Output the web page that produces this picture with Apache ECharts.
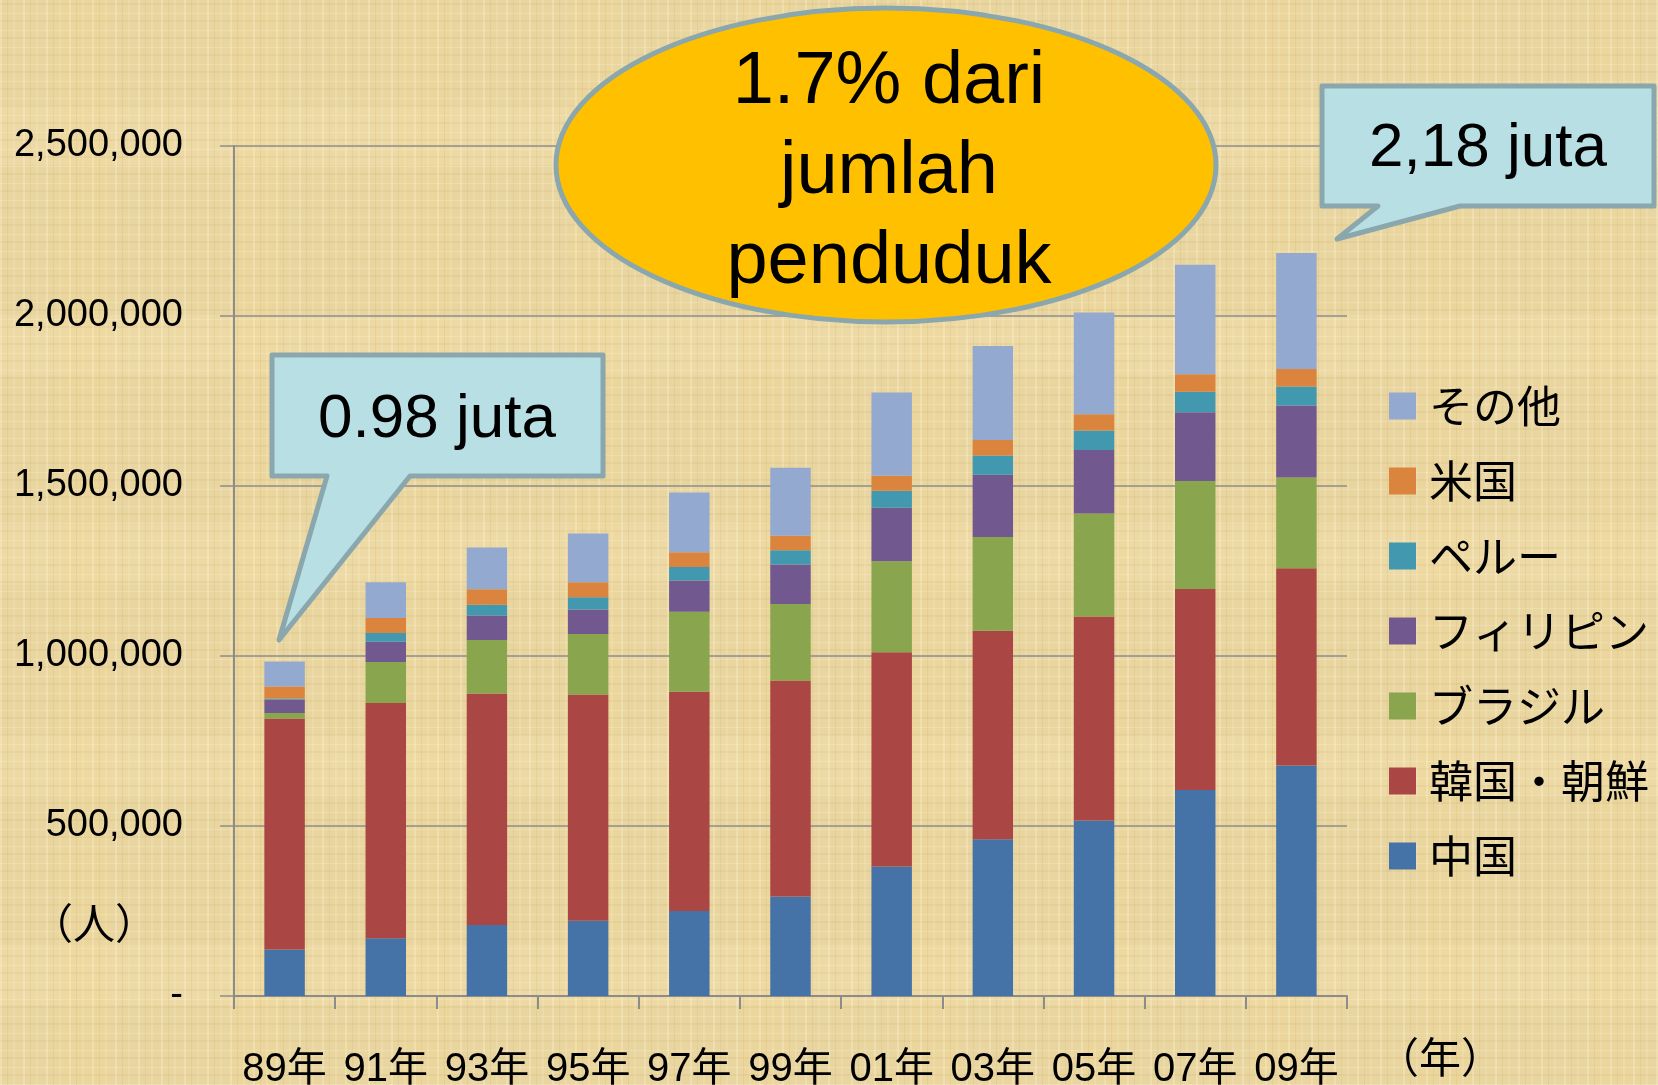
<!DOCTYPE html>
<html>
<head>
<meta charset="utf-8">
<script src="https://cdn.jsdelivr.net/npm/echarts@6/dist/echarts.min.js"></script>
<style>
  html, body { margin: 0; padding: 0; }
  #chart {
    width: 1658px; height: 1085px;
    background-color: #E9D59F;
    background-image:
      repeating-linear-gradient(90deg, rgba(255,248,220,0.28) 0 2px, rgba(0,0,0,0) 2px 7px, rgba(170,140,70,0.10) 7px 8px, rgba(0,0,0,0) 8px 13px, rgba(255,248,220,0.15) 13px 15px, rgba(0,0,0,0) 15px 23px),
      repeating-linear-gradient(0deg, rgba(255,248,220,0.22) 0 1px, rgba(0,0,0,0) 1px 9px, rgba(170,140,70,0.09) 9px 11px, rgba(0,0,0,0) 11px 17px),
      repeating-linear-gradient(90deg, rgba(240,210,140,0.0) 0 60px, rgba(240,215,150,0.25) 60px 110px, rgba(0,0,0,0) 110px 170px),
      repeating-linear-gradient(0deg, rgba(250,230,180,0.0) 0 80px, rgba(250,232,185,0.22) 80px 140px, rgba(0,0,0,0) 140px 210px);
  }
</style>
</head>
<body>
<div id="chart"></div>
<script>
// ---- data (persons) ----
const categories = ['89年', '91年', '93年', '95年', '97年', '99年', '01年', '03年', '05年', '07年', '09年'];
const china       = [137000, 170000, 209000, 221000, 250000, 293000, 381000, 461000, 516000, 606000, 678000];
const korea       = [679000, 692000, 681000, 666000, 645000, 635000, 630000, 613000, 600000, 591000, 580000];
const brazil      = [16000, 120000, 157000, 178000, 235000, 225000, 268000, 276000, 303000, 318000, 267000];
const philippines = [40000, 60000, 72000, 72000, 92000, 116000, 157000, 183000, 187000, 202000, 212000];
const peru        = [3000, 26000, 32000, 36000, 40000, 42000, 50000, 57000, 57000, 60000, 56000];
const usa         = [35000, 44000, 45000, 44000, 43000, 43000, 44000, 45000, 48000, 52000, 51000];
const others      = [74000, 105000, 123000, 143000, 176000, 200000, 245000, 277000, 299000, 322000, 341000];

const seriesNames  = ['中国', '韓国・朝鮮', 'ブラジル', 'フィリピン', 'ペルー', '米国', 'その他'];
const seriesValues = [china, korea, brazil, philippines, peru, usa, others];
const seriesColors = ['#4572A7', '#AA4643', '#89A54E', '#71588F', '#4198AF', '#DB843D', '#93A9CF'];
const legendOrder  = ['その他', '米国', 'ペルー', 'フィリピン', 'ブラジル', '韓国・朝鮮', '中国'];

const yMin = 0, yMax = 2500000, yStep = 500000;

const latin = '"Liberation Sans", Arial, "Noto Sans CJK JP", sans-serif';
const cjk = '"Noto Sans CJK JP", "Liberation Sans", sans-serif';
const frameColor = '#8AA7AD';
const axisColor = '#8C8C8C';

const chart = echarts.init(document.getElementById('chart'), null, { renderer: 'canvas' });

chart.setOption({
  backgroundColor: 'transparent',
  animation: false,
  grid: { left: 234, right: 311, top: 146, bottom: 89, containLabel: false, outerBoundsMode: 'none' },
  legend: {
    data: legendOrder,
    orient: 'vertical',
    left: 1389,
    top: 384,
    padding: 0,
    itemWidth: 27,
    itemHeight: 27,
    itemGap: 31,
    icon: 'rect',
    textStyle: { fontFamily: cjk, fontSize: 44, lineHeight: 44, color: '#000', padding: [0, 0, 0, 8] }
  },
  xAxis: {
    type: 'category',
    data: categories,
    axisLine: { show: true, lineStyle: { color: axisColor, width: 2 } },
    axisTick: { show: true, length: 13, alignWithLabel: false, lineStyle: { color: axisColor, width: 2 } },
    axisLabel: { fontFamily: latin, fontSize: 40, color: '#000', margin: 54, interval: 0 },
    splitLine: { show: false }
  },
  yAxis: {
    type: 'value',
    min: yMin, max: yMax, interval: yStep,
    axisLine: { show: true, lineStyle: { color: axisColor, width: 2 } },
    axisTick: { show: true, length: 14, lineStyle: { color: axisColor, width: 1.5 } },
    axisLabel: {
      fontFamily: latin, fontSize: 38, color: '#000', margin: 51,
      formatter: v => v === 0 ? '-' : v.toLocaleString('en-US')
    },
    splitLine: { show: true, lineStyle: { color: axisColor, width: 1.5 } }
  },
  series: seriesNames.map((name, i) => ({
    name,
    type: 'bar',
    stack: 'total',
    barWidth: '40%',
    data: seriesValues[i],
    itemStyle: { color: seriesColors[i] }
  })),
  graphic: [
    { type: 'text', z: 10, style: { text: '（人）', x: 94, y: 923, font: '42px ' + cjk, fill: '#000', align: 'center', verticalAlign: 'middle' } },
    { type: 'text', z: 10, style: { text: '（年）', x: 1440, y: 1057, font: '42px ' + cjk, fill: '#000', align: 'center', verticalAlign: 'middle' } },
    {
      type: 'polygon', z: 20,
      shape: { points: [[272, 355], [603, 355], [603, 476], [410, 476], [279, 640], [327, 476], [272, 476]] },
      style: { fill: '#B8E0E4', stroke: frameColor, lineWidth: 5, lineJoin: 'round' }
    },
    { type: 'text', z: 21, style: { text: '0.98 juta', x: 437, y: 420, font: '62px ' + latin, fill: '#000', align: 'center', verticalAlign: 'middle' } },
    {
      type: 'polygon', z: 20,
      shape: { points: [[1322, 86], [1654, 86], [1654, 206], [1460, 206], [1337, 239], [1378, 206], [1322, 206]] },
      style: { fill: '#B8E0E4', stroke: frameColor, lineWidth: 5, lineJoin: 'round' }
    },
    { type: 'text', z: 21, style: { text: '2,18 juta', x: 1488, y: 149, font: '62px ' + latin, fill: '#000', align: 'center', verticalAlign: 'middle' } },
    {
      type: 'ellipse', z: 20,
      shape: { cx: 886, cy: 165, rx: 330, ry: 157 },
      style: { fill: '#FFC000', stroke: frameColor, lineWidth: 5 }
    },
    { type: 'text', z: 21, style: { text: '1.7% dari\njumlah\npenduduk', x: 889, y: 173, font: '74px ' + latin, lineHeight: 90, fill: '#000', align: 'center', verticalAlign: 'middle' } }
  ]
});
</script>
</body>
</html>
